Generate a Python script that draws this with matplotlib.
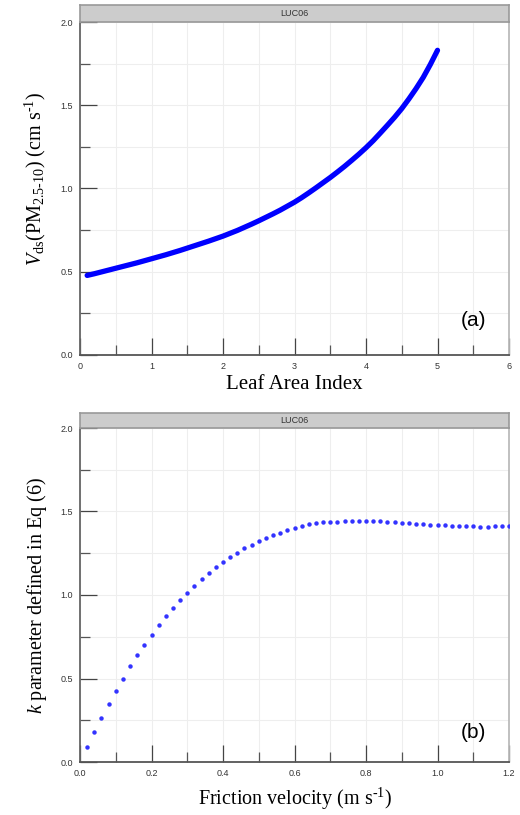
import numpy as np
import matplotlib
matplotlib.use('Agg')
import matplotlib.pyplot as plt
from matplotlib.ticker import MultipleLocator, FormatStrFormatter

plt.rcParams['font.family'] = ['Liberation Sans', 'DejaVu Sans']
plt.rcParams['mathtext.fontset'] = 'custom'
plt.rcParams['mathtext.rm'] = 'Liberation Serif'
plt.rcParams['mathtext.it'] = 'Liberation Serif:italic'

# (a) deposition velocity vs leaf area index
lai = [0.1, 0.2, 0.3, 0.4, 0.5, 0.6, 0.7, 0.8, 0.9, 1.0,
       1.1, 1.2, 1.3, 1.4, 1.5, 1.6, 1.7, 1.8, 1.9, 2.0,
       2.1, 2.2, 2.3, 2.4, 2.5, 2.6, 2.7, 2.8, 2.9, 3.0,
       3.1, 3.2, 3.3, 3.4, 3.5, 3.6, 3.7, 3.8, 3.9, 4.0,
       4.1, 4.2, 4.3, 4.4, 4.5, 4.6, 4.7, 4.8, 4.9, 5.0]
vds = [0.478, 0.488, 0.499, 0.510, 0.521, 0.532, 0.543, 0.554, 0.566, 0.578,
       0.590, 0.602, 0.615, 0.628, 0.642, 0.656, 0.670, 0.684, 0.699, 0.714,
       0.731, 0.748, 0.767, 0.786, 0.806, 0.827, 0.848, 0.870, 0.894, 0.918,
       0.945, 0.974, 1.004, 1.035, 1.066, 1.099, 1.133, 1.169, 1.206, 1.245,
       1.287, 1.333, 1.380, 1.428, 1.480, 1.538, 1.600, 1.667, 1.745, 1.830]

# (b) k parameter vs friction velocity
ustar = [0.02, 0.04, 0.06, 0.08, 0.10, 0.12, 0.14, 0.16, 0.18, 0.20,
         0.22, 0.24, 0.26, 0.28, 0.30, 0.32, 0.34, 0.36, 0.38, 0.40,
         0.42, 0.44, 0.46, 0.48, 0.50, 0.52, 0.54, 0.56, 0.58, 0.60,
         0.62, 0.64, 0.66, 0.68, 0.70, 0.72, 0.74, 0.76, 0.78, 0.80,
         0.82, 0.84, 0.86, 0.88, 0.90, 0.92, 0.94, 0.96, 0.98, 1.00,
         1.02, 1.04, 1.06, 1.08, 1.10, 1.12, 1.14, 1.16, 1.18, 1.20]
kpar = [0.092, 0.182, 0.266, 0.350, 0.426, 0.500, 0.572, 0.638, 0.702, 0.762,
        0.820, 0.872, 0.924, 0.972, 1.014, 1.056, 1.096, 1.132, 1.166, 1.198,
        1.228, 1.254, 1.280, 1.302, 1.324, 1.342, 1.358, 1.374, 1.388, 1.402,
        1.416, 1.424, 1.430, 1.436, 1.438, 1.440, 1.442, 1.444, 1.446, 1.446,
        1.444, 1.442, 1.440, 1.438, 1.434, 1.430, 1.428, 1.426, 1.422, 1.420,
        1.418, 1.416, 1.414, 1.412, 1.412, 1.410, 1.410, 1.412, 1.412, 1.414]

W, H = 520, 815
fig = plt.figure(figsize=(W / 100, H / 100), dpi=100)


def make_panel(left, top, right, bottom, strip_top):
    ax = fig.add_axes([left / W, 1 - bottom / H, (right - left) / W, (bottom - top) / H])
    strip = fig.add_axes([left / W, 1 - top / H, (right - left) / W, (top - strip_top) / H])
    strip.set_xticks([])
    strip.set_yticks([])
    strip.set_facecolor('#cccccc')
    for s in strip.spines.values():
        s.set_color('#999999')
        s.set_linewidth(1.2)
    strip.text(0.5, 0.5, 'LUC06', ha='center', va='center', fontsize=6.5, color='#333333')

    ax.spines['top'].set_visible(False)
    ax.spines['left'].set_color('#666666')
    ax.spines['bottom'].set_color('#555555')
    ax.spines['right'].set_color('#bbbbbb')
    for s in ['left', 'bottom', 'right']:
        ax.spines[s].set_linewidth(1.3)
    ax.tick_params(which='major', direction='in', length=12, width=0.9, color='#444444',
                   labelsize=6.5, labelcolor='#333333', pad=5)
    ax.tick_params(which='minor', direction='in', length=7, width=0.9, color='#555555')
    ax.tick_params(axis='y', which='both', right=False)
    ax.grid(which='both', color='#eeeeee', linewidth=0.8)
    ax.set_axisbelow(True)
    return ax


serif = ['Liberation Serif', 'DejaVu Serif']

ax1 = make_panel(80, 22, 509, 355, 5)
ax1.plot(lai, vds, color='#0000ff', linewidth=3.8, solid_capstyle='round', zorder=3)
ax1.set_xlim(0, 6)
ax1.set_ylim(0, 2)
ax1.xaxis.set_major_locator(MultipleLocator(1))
ax1.xaxis.set_minor_locator(MultipleLocator(0.5))
ax1.yaxis.set_major_locator(MultipleLocator(0.5))
ax1.yaxis.set_minor_locator(MultipleLocator(0.25))
ax1.yaxis.set_major_formatter(FormatStrFormatter('%.1f'))
ax1.set_xlabel('Leaf Area Index', family=serif, fontsize=15, labelpad=3)
ax1.set_ylabel(r'$V_{\rm ds}$(PM$_{2.5\text{-}10}$) (cm s$^{\text{-}1}$)',
               family=serif, fontsize=14.5)
ax1.yaxis.set_label_coords(-0.075, 0.53)
ax1.text(0.918, 0.105, '(a)', transform=ax1.transAxes, ha='center', va='center', fontsize=15)

ax2 = make_panel(80, 428, 509, 762, 413)
ax2.plot(ustar, kpar, 'o', color='#3333ff', markersize=3.2, markeredgewidth=0, zorder=3)
ax2.set_xlim(0, 1.2)
ax2.set_ylim(0, 2)
ax2.xaxis.set_major_locator(MultipleLocator(0.2))
ax2.xaxis.set_minor_locator(MultipleLocator(0.1))
ax2.yaxis.set_major_locator(MultipleLocator(0.5))
ax2.yaxis.set_minor_locator(MultipleLocator(0.25))
ax2.xaxis.set_major_formatter(FormatStrFormatter('%.1f'))
ax2.yaxis.set_major_formatter(FormatStrFormatter('%.1f'))
ax2.set_xlabel(r'Friction velocity (m s$^{\text{-}1}$)', family=serif, fontsize=14.5, labelpad=6)
ax2.set_ylabel(r'$k$ parameter defined in Eq (6)', family=serif, fontsize=14.5, labelpad=8)
ax2.text(0.918, 0.087, '(b)', transform=ax2.transAxes, ha='center', va='center', fontsize=15)

fig.savefig('out.png', dpi=100)
